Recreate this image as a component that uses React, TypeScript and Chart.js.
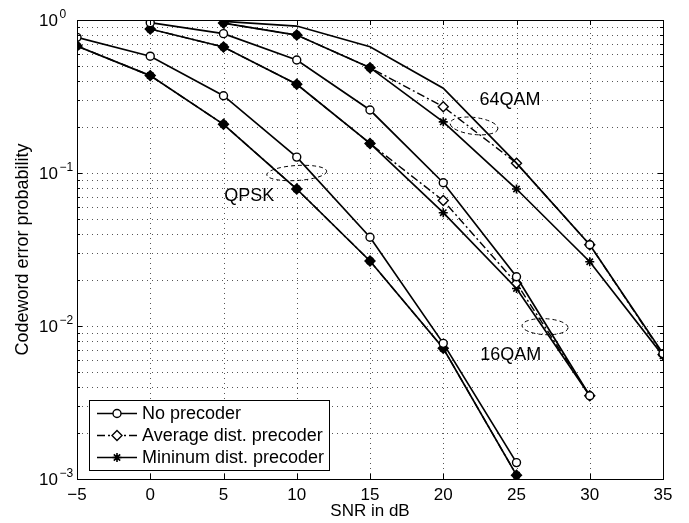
import React, { useEffect, useRef } from "react";
import { Chart, registerables } from "chart.js";

Chart.register(...registerables);

// ---------- data ----------
const qpskSnr = [-5, 0, 5, 10, 15, 20, 25];
const qpskNone = [0.77, 0.58, 0.32, 0.127, 0.038, 0.0077, 0.00128];
const qpskAvg = [0.676, 0.433, 0.208, 0.0786, 0.0266, 0.00715, 0.00106];
const qpskMin = [0.676, 0.433, 0.208, 0.0786, 0.0266, 0.00715, 0.00106];

const qam16Snr = [0, 5, 10, 15, 20, 25, 30];
const qam16None = [0.96, 0.814, 0.548, 0.258, 0.0864, 0.021, 0.0035];
const qam16Avg = [0.873, 0.666, 0.38, 0.156, 0.066, 0.019, 0.0035];
const qam16Min = [0.873, 0.666, 0.38, 0.156, 0.055, 0.0176, 0.0035];

const qam64Snr = [5, 10, 15, 20, 25, 30, 35];
const qam64None = [0.98, 0.913, 0.669, 0.358, 0.116, 0.034, 0.0066];
const qam64Avg = [0.955, 0.797, 0.488, 0.271, 0.116, 0.034, 0.0065];
const qam64Min = [0.955, 0.797, 0.488, 0.216, 0.0786, 0.0263, 0.0064];

const seriesLabels = ["No precoder", "Average dist. precoder", "Mininum dist. precoder"];
const xTicks = [-5, 0, 5, 10, 15, 20, 25, 30, 35];
const yDecades = [-3, -2, -1, 0];
const groupLabels = ["QPSK", "16QAM", "64QAM"];
const groupLabelPos = [
  [6.75, 0.0705],
  [24.6, 0.00646],
  [24.56, 0.3],
];
const groupEllipsePos = [
  [10, 0.1],
  [26.95, 0.0099],
  [22.1, 0.203],
];

const FONT = '"Liberation Sans", Arial, Helvetica, sans-serif';
const DASHDOT = [8, 3, 2, 3];

function pts(xs: number[], ys: number[]) {
  return xs.map((x, i) => ({ x, y: ys[i] }));
}

function logTickValues() {
  const t: number[] = [];
  for (let d = -3; d < 0; d++) {
    for (let m = 1; m <= 9; m++) t.push(m * Math.pow(10, d));
  }
  t.push(1);
  return t;
}

function makeGroup(xs: number[], none: number[], avg: number[], min: number[], noneRadius?: number[]) {
  const avgFill = avg.map((v, i) => (Math.abs(Math.log10(v / min[i])) < 0.01 ? "#000" : "#fff"));
  return [
    {
      label: seriesLabels[0],
      data: pts(xs, none),
      borderColor: "#000",
      borderWidth: 1.7,
      pointStyle: "circle",
      pointRadius: noneRadius || 4,
      pointBackgroundColor: "#fff",
      pointBorderColor: "#000",
      pointBorderWidth: 1.4,
    },
    {
      label: seriesLabels[1],
      data: pts(xs, avg),
      borderColor: "#000",
      borderWidth: 1.4,
      borderDash: DASHDOT,
      pointStyle: "rectRot",
      pointRadius: 5,
      pointBackgroundColor: avgFill,
      pointBorderColor: "#000",
      pointBorderWidth: 1.4,
    },
    {
      label: seriesLabels[2],
      data: pts(xs, min),
      borderColor: "#000",
      borderWidth: 1.7,
      pointStyle: "star",
      pointRadius: 4.5,
      pointBackgroundColor: "#000",
      pointBorderColor: "#000",
      pointBorderWidth: 1.6,
    },
  ];
}

function drawMarker(ctx: CanvasRenderingContext2D, kind: number, x: number, y: number) {
  ctx.save();
  ctx.strokeStyle = "#000";
  ctx.lineWidth = 1.4;
  ctx.setLineDash([]);
  ctx.beginPath();
  if (kind === 0) {
    ctx.arc(x, y, 4, 0, Math.PI * 2);
    ctx.fillStyle = "#fff";
    ctx.fill();
    ctx.stroke();
  } else if (kind === 1) {
    ctx.moveTo(x, y - 5);
    ctx.lineTo(x + 5, y);
    ctx.lineTo(x, y + 5);
    ctx.lineTo(x - 5, y);
    ctx.closePath();
    ctx.fillStyle = "#fff";
    ctx.fill();
    ctx.stroke();
  } else {
    const r = 4.5;
    ctx.lineWidth = 1.6;
    for (let k = 0; k < 4; k++) {
      const a = (k * Math.PI) / 4;
      ctx.moveTo(x - Math.cos(a) * r, y - Math.sin(a) * r);
      ctx.lineTo(x + Math.cos(a) * r, y + Math.sin(a) * r);
    }
    ctx.stroke();
  }
  ctx.restore();
}

const decorPlugin = {
  id: "decor",
  beforeDatasetsDraw(chart: any) {
    const ctx: CanvasRenderingContext2D = chart.ctx;
    const a = chart.chartArea;
    const xs = chart.scales.x;
    const ys = chart.scales.y;
    ctx.save();
    ctx.strokeStyle = "#555";
    ctx.lineWidth = 1;
    ctx.setLineDash([1, 4]);
    ctx.beginPath();
    xTicks.forEach((v) => {
      const px = Math.round(xs.getPixelForValue(v)) + 0.5;
      ctx.moveTo(px, a.bottom);
      ctx.lineTo(px, a.top);
    });
    logTickValues().forEach((v) => {
      const py = Math.round(ys.getPixelForValue(v)) + 0.5;
      ctx.moveTo(a.left, py);
      ctx.lineTo(a.right, py);
    });
    ctx.stroke();
    ctx.restore();
  },
  afterDatasetsDraw(chart: any) {
    const ctx: CanvasRenderingContext2D = chart.ctx;
    const xs = chart.scales.x;
    const ys = chart.scales.y;
    ctx.save();
    const radii = [
      [30, 7.5, -0.06],
      [23, 8, 0.05],
      [24, 8.5, 0.12],
    ];
    ctx.strokeStyle = "#000";
    ctx.lineWidth = 1;
    ctx.setLineDash([4, 3]);
    groupEllipsePos.forEach((p, i) => {
      const cx = xs.getPixelForValue(p[0]);
      const cy = ys.getPixelForValue(p[1]);
      ctx.beginPath();
      ctx.ellipse(cx, cy, radii[i][0], radii[i][1], radii[i][2], 0, Math.PI * 2);
      ctx.stroke();
    });
    ctx.setLineDash([]);
    ctx.fillStyle = "#000";
    ctx.font = `18px ${FONT}`;
    ctx.textAlign = "center";
    ctx.textBaseline = "middle";
    groupLabels.forEach((t, i) => {
      const p = groupLabelPos[i];
      ctx.fillText(t, xs.getPixelForValue(p[0]), ys.getPixelForValue(p[1]));
    });
    ctx.restore();
  },
  afterDraw(chart: any) {
    const ctx: CanvasRenderingContext2D = chart.ctx;
    const a = chart.chartArea;
    const xs = chart.scales.x;
    const ys = chart.scales.y;
    ctx.save();
    ctx.strokeStyle = "#000";
    ctx.lineWidth = 1;
    ctx.setLineDash([]);
    ctx.strokeRect(Math.round(a.left) + 0.5, Math.round(a.top) + 0.5, Math.round(a.right - a.left), Math.round(a.bottom - a.top));
    ctx.beginPath();
    xTicks.forEach((v) => {
      const px = Math.round(xs.getPixelForValue(v)) + 0.5;
      ctx.moveTo(px, a.bottom);
      ctx.lineTo(px, a.bottom - 5);
      ctx.moveTo(px, a.top);
      ctx.lineTo(px, a.top + 5);
    });
    logTickValues().forEach((v) => {
      const py = Math.round(ys.getPixelForValue(v)) + 0.5;
      const isDecade = Math.abs(Math.log10(v) - Math.round(Math.log10(v))) < 1e-9;
      const len = isDecade ? 5 : 3;
      ctx.moveTo(a.left, py);
      ctx.lineTo(a.left + len, py);
      ctx.moveTo(a.right, py);
      ctx.lineTo(a.right - len, py);
    });
    ctx.stroke();
    ctx.fillStyle = "#000";
    yDecades.forEach((e) => {
      const py = ys.getPixelForValue(Math.pow(10, e));
      ctx.font = `17px ${FONT}`;
      ctx.textAlign = "left";
      ctx.textBaseline = "middle";
      ctx.fillText("10", 39, py + 1);
      const w = ctx.measureText("10").width;
      ctx.font = `12px ${FONT}`;
      ctx.textBaseline = "alphabetic";
      ctx.fillText(e === 0 ? "0" : "\u2212" + String(-e), 39 + w + 1.5, py - 2.5);
    });
    ctx.font = `18px ${FONT}`;
    const tw = Math.max(...seriesLabels.map((s) => ctx.measureText(s).width));
    const lx = a.left + 12;
    const bh = 70;
    const ly = a.bottom - 9 - bh;
    const bw = 53 + tw + 5;
    ctx.fillStyle = "#fff";
    ctx.fillRect(lx, ly, bw, bh);
    ctx.strokeStyle = "#000";
    ctx.lineWidth = 1;
    ctx.strokeRect(Math.round(lx) + 0.5, Math.round(ly) + 0.5, Math.round(bw), bh);
    seriesLabels.forEach((s, i) => {
      const ry = ly + 13.5 + i * 22;
      ctx.save();
      ctx.strokeStyle = "#000";
      ctx.lineWidth = i === 1 ? 1.4 : 1.7;
      ctx.setLineDash(i === 1 ? DASHDOT : []);
      ctx.beginPath();
      ctx.moveTo(lx + 8, ry);
      ctx.lineTo(lx + 48, ry);
      ctx.stroke();
      ctx.restore();
      drawMarker(ctx, i, lx + 28, ry);
      ctx.fillStyle = "#000";
      ctx.textAlign = "left";
      ctx.textBaseline = "middle";
      ctx.fillText(s, lx + 53, ry + 1);
    });
    ctx.restore();
  },
};

export default function App() {
  const ref = useRef<HTMLCanvasElement | null>(null);
  useEffect(() => {
    if (!ref.current) return;
    Chart.defaults.font.family = FONT;
    Chart.defaults.color = "#000";
    const datasets = [
      ...makeGroup(qpskSnr, qpskNone, qpskAvg, qpskMin),
      ...makeGroup(qam16Snr, qam16None, qam16Avg, qam16Min),
      ...makeGroup(qam64Snr, qam64None, qam64Avg, qam64Min, qam64Snr.map((x) => (x >= 30 ? 4 : 0))),
    ];
    const chart = new Chart(ref.current, {
      type: "line",
      data: { datasets: datasets as any },
      options: {
        responsive: false,
        animation: false,
        events: [],
        layout: { padding: { left: 0, top: 20, right: 26, bottom: 0 } },
        elements: { line: { tension: 0 } },
        plugins: { legend: { display: false }, tooltip: { enabled: false } },
        scales: {
          x: {
            type: "linear",
            min: -5,
            max: 35,
            afterBuildTicks: (s: any) => {
              s.ticks = xTicks.map((v) => ({ value: v }));
            },
            afterFit: (s: any) => {
              s.height = 44;
            },
            ticks: {
              autoSkip: false,
              maxRotation: 0,
              padding: 6,
              font: { size: 17 },
              color: "#000",
              callback: (v: any) => String(v).replace("-", "\u2212"),
            },
            grid: { display: false, drawTicks: false },
            border: { display: false },
            title: {
              display: true,
              text: "SNR in dB",
              font: { size: 17, lineHeight: 1 },
              color: "#000",
              padding: { top: 0, bottom: 3.5 },
            },
          },
          y: {
            type: "logarithmic",
            min: 0.001,
            max: 1,
            afterBuildTicks: (s: any) => {
              s.ticks = logTickValues().map((v) => ({ value: v }));
            },
            afterFit: (s: any) => {
              s.width = 77;
            },
            ticks: { autoSkip: false, callback: () => "" },
            grid: { display: false, drawTicks: false },
            border: { display: false },
            title: {
              display: true,
              text: "Codeword error probability",
              font: { size: 18, lineHeight: 1 },
              color: "#000",
              padding: { top: 14, bottom: 0 },
            },
          },
        },
      },
      plugins: [decorPlugin],
    });
    return () => chart.destroy();
  }, []);
  return (
    <div style={{ position: "absolute", left: 0, top: 0, width: 689, height: 523, background: "#fff" }}>
      <canvas ref={ref} width={689} height={523} style={{ display: "block" }} />
    </div>
  );
}
